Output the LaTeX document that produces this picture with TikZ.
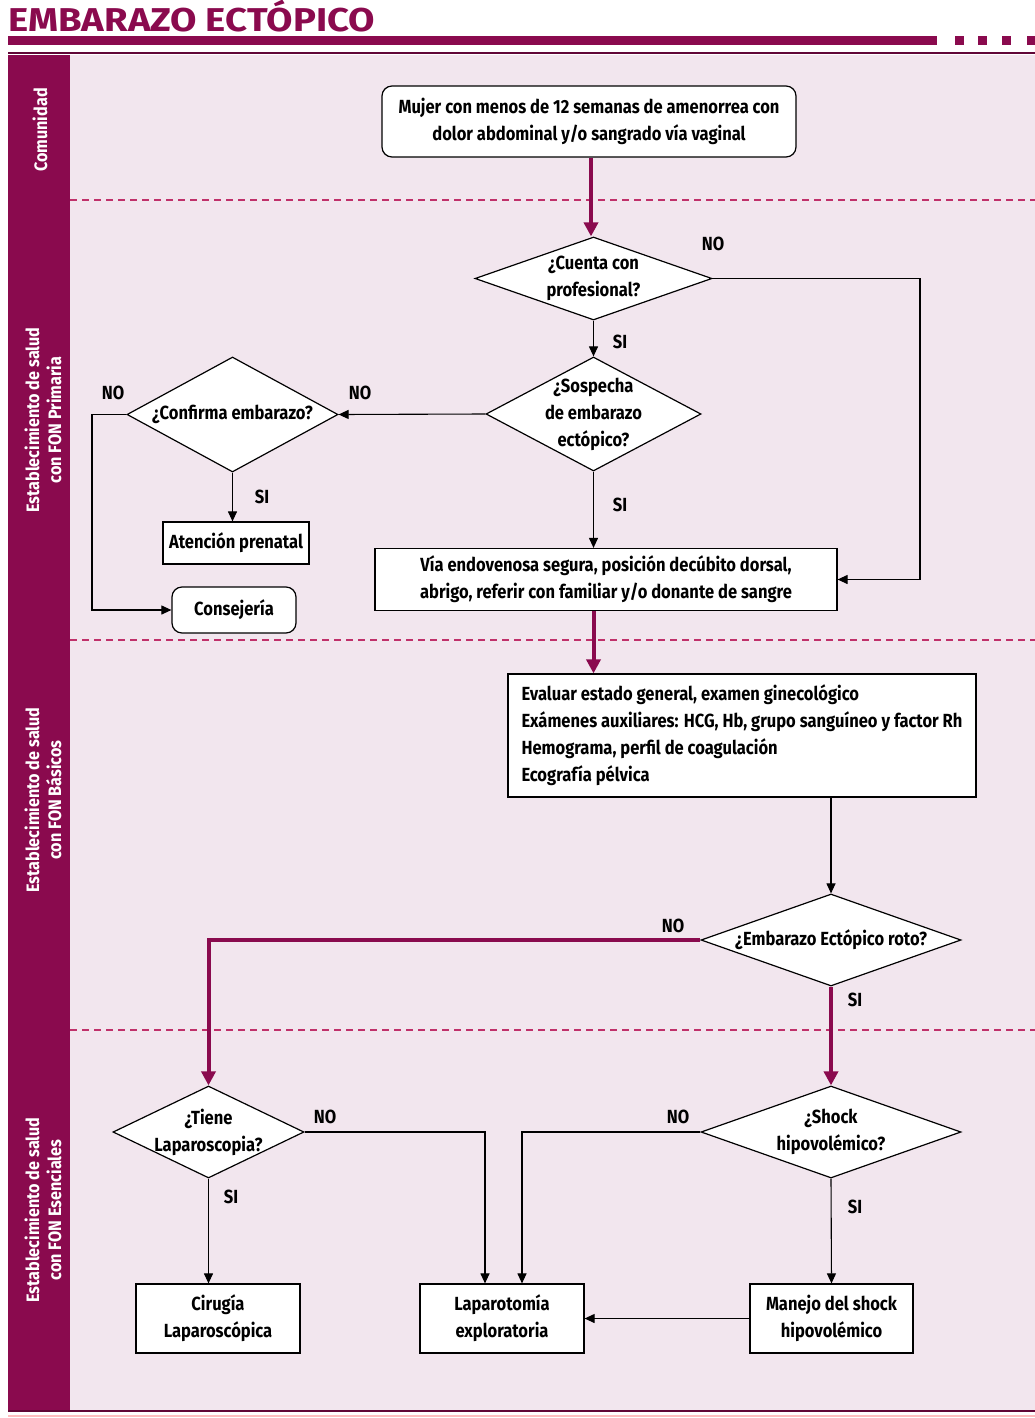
\documentclass[tikz,border=0pt]{standalone}
\usepackage{fontspec}
\setmainfont[FakeStretch=0.87]{Fira Sans}
\newfontfamily\titlefont[FakeStretch=1.16]{Fira Sans}
\newfontfamily\sidefont[FakeStretch=0.9]{Fira Sans}
\usetikzlibrary{shapes.geometric,arrows.meta,calc}
\definecolor{mag}{HTML}{8A0A4E}
\definecolor{bgp}{HTML}{F2E6EE}
\definecolor{dashc}{HTML}{C0306A}
\begin{document}
\begin{tikzpicture}[x=1pt,y=-1pt,
  txt/.style={font=\bfseries\fontsize{19}{27}\selectfont},
  boxn/.style={draw=black,fill=white,line width=1.2pt,txt,align=center,inner sep=2pt},
  rboxn/.style={boxn,rounded corners=10pt},
  dec/.style={diamond,draw=black,fill=white,line width=1.2pt,inner sep=0pt},
  dtxt/.style={txt,align=center,inner sep=0pt},
  lab/.style={txt,inner sep=0pt},
  arr/.style={line width=1.1pt,-{Triangle[length=10pt,width=9pt]}},
  marr/.style={mag,line width=4pt,-{Triangle[length=14pt,width=14pt]}},
  sep/.style={dashc,line width=1.5pt,dash pattern=on 7pt off 5pt},
  side/.style={white,rotate=90,align=center,font=\sidefont\bfseries\fontsize{18}{22}\selectfont}]
\useasboundingbox (0,0) rectangle (1035,1418);
% title
\node[anchor=base west,inner sep=0pt,text=mag,font=\titlefont\bfseries\fontsize{33}{35}\selectfont] (title) at (8,32) {EMBARAZO ECTÓPICO};
\fill[mag] (8,36) rectangle (937,45);
\foreach \xx in {955,978,1002,1027} \fill[mag] (\xx,36) rectangle ++(9,9);
\draw[mag!70!black,line width=1.5pt] (8,53) -- (1035,53);
% panel
\fill[bgp] (8,55) rectangle (1035,1410);
\fill[mag] (8,55) rectangle (70,1410);
\draw[mag!70!black,line width=1.5pt] (8,1411) -- (1035,1411);
\draw[pink,line width=1.5pt] (8,1416) -- (1035,1416);
\draw[sep] (70,200) -- (1035,200);
\draw[sep] (70,640) -- (1035,640);
\draw[sep] (70,1030) -- (1035,1030);
\node[side] (s1) at (40,130) {Comunidad};
\node[side] (s2) at (43,420) {Establecimiento de salud\\con FON Primaria};
\node[side] (s3) at (43,800) {Establecimiento de salud\\con FON Básicos};
\node[side] (s4) at (43,1210) {Establecimiento de salud\\con FON Esenciales};
% boxes
\node[rboxn,minimum width=414pt,minimum height=71pt] (start) at (589,121.5) {Mujer con menos de 12 semanas de amenorrea con\\dolor abdominal y/o sangrado vía vaginal};
\node[boxn,minimum width=146pt,minimum height=42pt] (aten) at (236,543) {Atención prenatal};
\node[rboxn,minimum width=124pt,minimum height=46pt] (cons) at (234,610) {Consejería};
\node[boxn,minimum width=462pt,minimum height=62pt] (via) at (606,579.5) {Vía endovenosa segura, posición decúbito dorsal,\\abrigo, referir con familiar y/o donante de sangre};
\node[boxn,align=left,minimum width=468pt,minimum height=123pt] (eval) at (742,735.5) {Evaluar estado general, examen ginecológico\\Exámenes auxiliares: HCG, Hb, grupo sanguíneo y factor Rh\hspace*{6pt}\\Hemograma, perfil de coagulación\\Ecografía pélvica};
\node[boxn,minimum width=164pt,minimum height=69pt] (cir) at (218,1318.5) {Cirugía\\Laparoscópica};
\node[boxn,minimum width=164pt,minimum height=69pt] (lap) at (502,1318.5) {Laparotomía\\exploratoria};
\node[boxn,minimum width=163pt,minimum height=69pt] (man) at (831.5,1318.5) {Manejo del shock\\hipovolémico};
% decisions
\node[dec,minimum width=237pt,minimum height=83pt] (d1) at (593.5,278.5) {};
\node[dtxt] (d1t) at (d1) {¿Cuenta con\\profesional?};
\node[dec,minimum width=215pt,minimum height=114pt] (d2) at (593.5,414) {};
\node[dtxt] (d2t) at (d2) {¿Sospecha\\de embarazo\\ectópico?};
\node[dec,minimum width=211pt,minimum height=115pt] (d3) at (232.5,414.5) {};
\node[dtxt] (d3t) at (d3) {¿Confirma embarazo?};
\node[dec,minimum width=260pt,minimum height=92pt] (d4) at (831,940) {};
\node[dtxt] (d4t) at (d4) {¿Embarazo Ectópico roto?};
\node[dec,minimum width=191pt,minimum height=92pt] (d5) at (208.5,1132) {};
\node[dtxt] (d5t) at (d5) {¿Tiene\\Laparoscopia?};
\node[dec,minimum width=260pt,minimum height=92pt] (d6) at (831,1132) {};
\node[dtxt] (d6t) at (d6) {¿Shock\\hipovolémico?};
% helper coordinates
\coordinate (r1) at (920,278.5);
\coordinate (l1) at (92,414.5);
\coordinate (mx) at (591,0);
% connectors
\draw[marr] (start.south -| mx) -- (d1.north -| mx);
\draw[arr] (d1.south) -- (d2.north);
\draw[arr] (d1.east) -- (r1) |- (via.east);
\draw[arr] (d2.west) -- (d3.east);
\draw[arr] (d3.west) -- (l1) |- (cons.west);
\draw[arr] (d3.south) -- (d3.south |- aten.north);
\draw[arr] (d2.south) -- (d2.south |- via.north);
\draw[marr] (via.south -| d2.south) -- (eval.north -| d2.south);
\draw[arr] (eval.south -| d4.north) -- (d4.north);
\draw[marr] (d4.west) -| (d5.north);
\draw[marr] (d4.south) -- (d6.north);
\draw[arr] (d5.east) -| ($(lap.north)+(-17,0)$);
\draw[arr] (d6.west) -| ($(lap.north)+(20,0)$);
\draw[arr] (d5.south) -- (d5.south |- cir.north);
\draw[arr] (d6.south) -- (man.north);
\draw[arr] (man.west) -- (lap.east);
% labels
\node[lab] (n1) at (713,244) {NO};
\node[lab] (s1l) at (620,342) {SI};
\node[lab] (n2) at (360,393) {NO};
\node[lab] (n3) at (113,393) {NO};
\node[lab] (s2l) at (262,497) {SI};
\node[lab] (s3l) at (620,505) {SI};
\node[lab] (n4) at (673,926) {NO};
\node[lab] (s4l) at (855,1000) {SI};
\node[lab] (n5) at (325,1117) {NO};
\node[lab] (n6) at (678,1117) {NO};
\node[lab] (s5l) at (231,1197) {SI};
\node[lab] (s6l) at (855,1207) {SI};
\end{tikzpicture}
\end{document}
